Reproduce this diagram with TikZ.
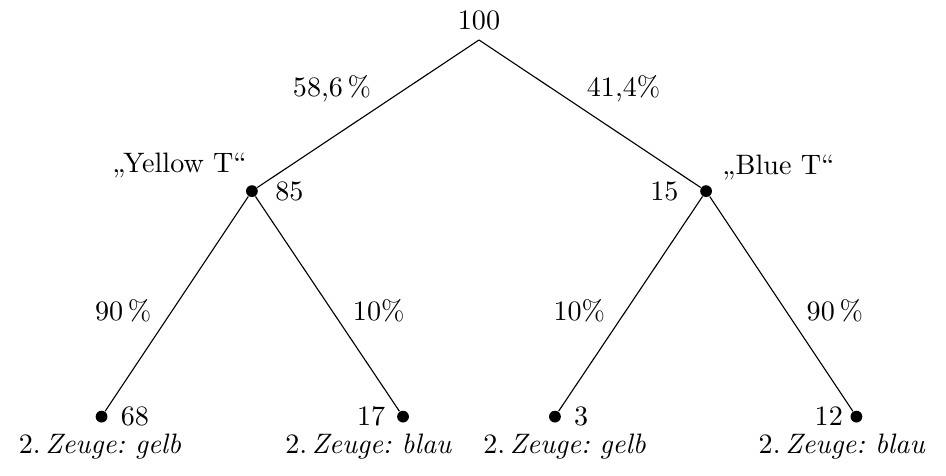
\documentclass[tikz,border=0pt]{standalone}
\usepackage{fontspec}
\usepackage{tikz}
\usetikzlibrary{positioning}
\frenchspacing

\begin{document}
\begin{tikzpicture}[
  dot/.style={circle, fill, inner sep=0pt, minimum size=4.2pt},
  zeuge/.style={anchor=base}
]
  \useasboundingbox (-5.99,0.5) rectangle (5.84,-5.44);

  % root and first stage
  \node[anchor=south] (root) at (0,0) {100};
  \node[dot, label={[label distance=2.5pt]right:85}] (yellow) at (-2.84,-1.89) {};
  \node[dot, label={[label distance=4pt]left:15}] (blue) at (2.84,-1.89) {};
  \node[anchor=base east] (ylab) at (-2.78,-1.66) {„Yellow T“};
  \node[anchor=base west] (blab) at (2.92,-1.68) {„Blue T“};

  % leaves
  \node[dot, label={[label distance=1pt]right:68}] (yy) at (-4.72,-4.71) {};
  \node[dot, label={[label distance=0.5pt]left:17}] (yb) at (-0.95,-4.71) {};
  \node[dot, label={[label distance=1pt]right:3}] (by) at (0.95,-4.71) {};
  \node[dot, label={[label distance=-1pt]left:12}] (bb) at (4.72,-4.71) {};

  \node[zeuge] (yyt) at (-4.74,-5.17) {2.\,\textit{Zeuge: gelb}};
  \node[zeuge] (ybt) at (-1.38,-5.17) {2.\,\textit{Zeuge: blau}};
  \node[zeuge] (byt) at (1.07,-5.17) {2.\,\textit{Zeuge: gelb}};
  \node[zeuge] (bbt) at (4.54,-5.17) {2.\,\textit{Zeuge: blau}};

  \draw (root.south) -- node[pos=0.46, above left=-2pt] {58,6\,\%} (yellow);
  \draw (root.south) -- node[pos=0.46, above right=-2pt] {41,4\%} (blue);
  \draw (yellow) -- node[pos=0.53, left=4pt] {90\,\%} (yy);
  \draw (yellow) -- node[pos=0.53, right=4pt] {10\%} (yb);
  \draw (blue) -- node[pos=0.53, left=4pt] {10\%} (by);
  \draw (blue) -- node[pos=0.53, right=4pt] {90\,\%} (bb);
\end{tikzpicture}
\end{document}
